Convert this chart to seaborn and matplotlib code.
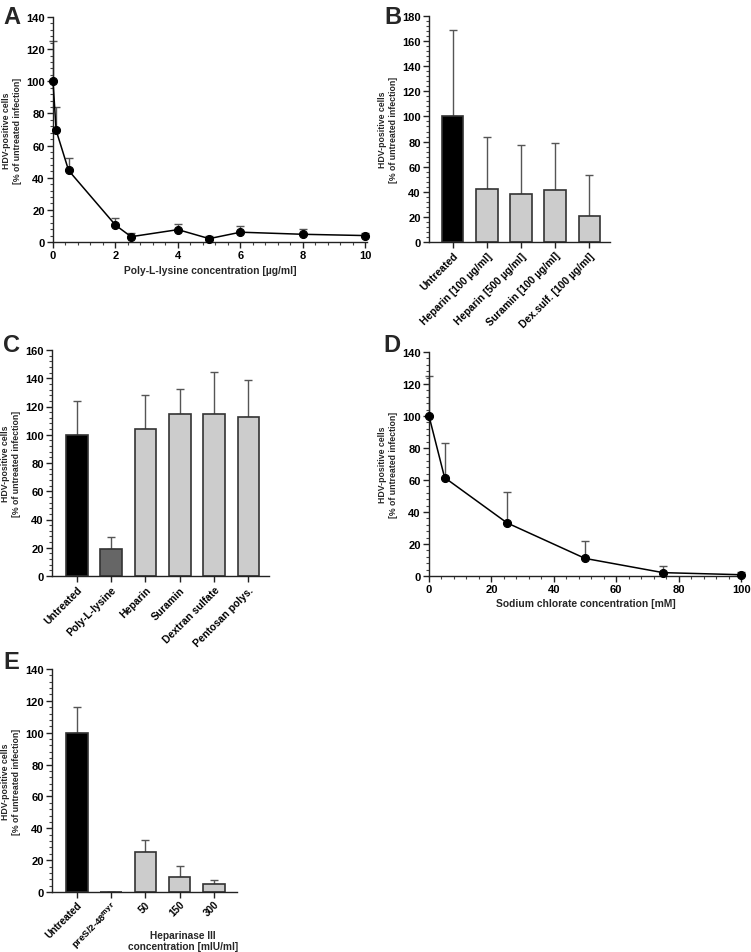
import numpy as np
import matplotlib
matplotlib.use("Agg")
import matplotlib.pyplot as plt
from matplotlib.ticker import MultipleLocator
import seaborn as sns

# -------------------------
# Data
# -------------------------

# A: poly-L-lysine dose response
pll_conc = [0, 0.1, 0.5, 2, 2.5, 4, 5, 6, 8, 10]
pll_mean = [100, 69.5, 44.5, 10.5, 3.3, 7.7, 2.1, 6.1, 4.8, 4.0]
pll_err = [25, 14.5, 7.5, 4.5, 2.5, 3.7, 1.9, 3.9, 3.3, 1.6]

# B: soluble GAG mimetics
b_labels = ["Untreated", "Heparin [100 µg/ml]", "Heparin [500 µg/ml]",
            "Suramin [100 µg/ml]", "Dex.sulf. [100 µg/ml]"]
b_mean = [100, 42.5, 38, 41.2, 21]
b_err = [69, 41.5, 39, 38, 32.5]

# C: pre-treatment of cells
c_labels = ["Untreated", "Poly-L-lysine", "Heparin", "Suramin",
            "Dextran sulfate", "Pentosan polys."]
c_mean = [100, 19.3, 104.3, 115, 114.7, 112.6]
c_err = [23.8, 8.5, 24.1, 17.6, 30, 26.4]

# D: sodium chlorate
nacl_conc = [0, 5, 25, 50, 75, 100]
nacl_mean = [100, 61.5, 33.2, 11, 2.1, 0.8]
nacl_err = [25, 21.5, 19.5, 11, 4, 1.5]

# E: heparinase III
e_labels = ["Untreated", r"preS/2-48$^{\mathbf{myr}}$", "50", "150", "300"]
e_mean = [100, 0, 25.4, 9.2, 5]
e_err = [16.3, 0, 7, 7.2, 2.7]

# -------------------------
# Style
# -------------------------

sns.set_style("ticks")
plt.rcParams["font.family"] = ["Liberation Sans", "DejaVu Sans"]
plt.rcParams["font.weight"] = "bold"
plt.rcParams["axes.labelweight"] = "bold"
plt.rcParams["mathtext.fontset"] = "dejavusans"

W, H = 751, 953
fig = plt.figure(figsize=(W / 100, H / 100), dpi=100)

BLACK = "#000000"
LIGHT = "#cccccc"
DARK = "#666666"
ERR = "#555555"
NUM_FS = 8
CAT_FS = 7.5
LABEL_FS = 7.4


def px_axes(left, top, right, bottom):
    return fig.add_axes([left / W, 1 - bottom / H, (right - left) / W, (bottom - top) / H])


def style_axis(ax, ymax):
    ax.set_ylim(0, ymax)
    ax.yaxis.set_major_locator(MultipleLocator(20))
    ax.yaxis.set_minor_locator(MultipleLocator(4))
    sns.despine(ax=ax)
    for s in ["left", "bottom"]:
        ax.spines[s].set_linewidth(1.0)
        ax.spines[s].set_color("#222222")
    ax.tick_params(which="major", length=4, width=1, labelsize=NUM_FS, pad=2, colors="#222222",
                   labelcolor="black")
    ax.tick_params(which="minor", length=2, width=0.8, colors="#444444")
    ax.set_ylabel("HDV-positive cells\n[% of untreated infection]", fontsize=6.3,
                  linespacing=1.3, labelpad=3)
    for t in ax.get_yticklabels() + ax.get_xticklabels():
        t.set_fontweight("bold")


def line_panel(ax, x, y, err, xmax, xstep, xminor, xlabel, ymax):
    ax.errorbar(x, y, yerr=[np.zeros(len(err)), err], fmt="none", ecolor=ERR,
                elinewidth=1.0, capsize=3, capthick=1.0, clip_on=False, zorder=2)
    sns.lineplot(x=x, y=y, color="black", marker="o", markersize=5.8,
                 markeredgecolor="black", linewidth=1.1, ax=ax, zorder=3, clip_on=False)
    ax.set_xlim(0, xmax)
    ax.xaxis.set_major_locator(MultipleLocator(xstep))
    ax.xaxis.set_minor_locator(MultipleLocator(xminor))
    style_axis(ax, ymax)
    ax.set_xlabel(xlabel, fontsize=LABEL_FS, labelpad=3)


def bar_panel(ax, labels, vals, err, colors, ymax, xlim):
    sns.barplot(x=labels, y=vals, hue=labels, order=labels, hue_order=labels,
                palette=colors, legend=False, width=0.63, edgecolor="#333333",
                linewidth=1.2, ax=ax, zorder=2)
    ax.errorbar(range(len(vals)), vals, yerr=[np.zeros(len(err)), err], fmt="none",
                ecolor=ERR, elinewidth=1.0, capsize=3, capthick=1.0, zorder=1)
    ax.set_xlim(*xlim)
    style_axis(ax, ymax)
    ax.set_xticks(range(len(labels)))
    ax.set_xticklabels(labels, rotation=45, ha="right", rotation_mode="anchor",
                       fontsize=CAT_FS, fontweight="bold")
    ax.set_xlabel("")


# A
axA = px_axes(53, 18, 367, 243)
line_panel(axA, pll_conc, pll_mean, pll_err, 10.05, 2, 0.4,
           "Poly-L-lysine concentration [µg/ml]", 140)

# B
axB = px_axes(429, 17, 610, 243)
bar_panel(axB, b_labels, b_mean, b_err, [BLACK] + [LIGHT] * 4, 180, (-0.69, 4.6))

# C
axC = px_axes(52, 351, 269, 577)
bar_panel(axC, c_labels, c_mean, c_err, [BLACK, DARK] + [LIGHT] * 4, 160, (-0.72, 5.6))

# D
axD = px_axes(429, 353, 742, 577)
line_panel(axD, nacl_conc, nacl_mean, nacl_err, 100.3, 20, 4,
           "Sodium chlorate concentration [mM]", 140)

# E
axE = px_axes(52, 670, 237, 893)
bar_panel(axE, e_labels, e_mean, e_err, [BLACK, "white"] + [LIGHT] * 3, 140, (-0.73, 4.68))
axE.tick_params(axis="x", which="major", pad=1)
for t in axE.get_xticklabels():
    t.set_fontsize(7.2)
axE.get_xticklabels()[1].set_fontsize(6.8)
axE.text(3.1, -0.17, "Heparinase III\nconcentration [mIU/ml]", transform=axE.get_xaxis_transform(),
         ha="center", va="top", fontsize=7.3, fontweight="bold", linespacing=1.15)

# Panel letters
for letter, (px, py) in {"A": (3, 6), "B": (384, 6), "C": (3, 334), "D": (383, 334),
                         "E": (3, 651)}.items():
    fig.text(px / W, 1 - py / H, letter, fontsize=17, fontweight="bold", va="top", ha="left")

plt.savefig("out.png", dpi=100)
plt.close()
